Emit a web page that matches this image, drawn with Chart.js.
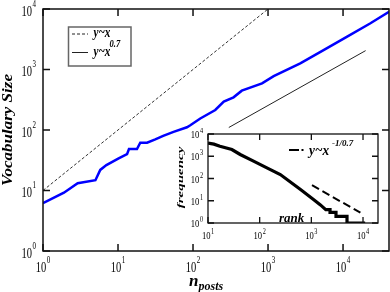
<!DOCTYPE html>
<html>
<head>
<meta charset="utf-8">
<script src="https://cdn.jsdelivr.net/npm/chart.js@4"></script>
<style>
  html, body { margin: 0; padding: 0; background: #fff; }
  #wrap { position: relative; width: 390px; height: 292px; }
  #main { position: absolute; left: 0; top: 0; }
  #inset { position: absolute; left: 170px; top: 128px; }
</style>
</head>
<body>
<div id="wrap">
  <canvas id="main" width="390" height="292"></canvas>
  <canvas id="inset" width="215" height="112"></canvas>
</div>
<script>
// main plot: vocabulary size against number of posts
const postCounts = [1, 1.9, 2.9, 5, 5.8, 7, 10.2, 13.2, 14, 17.9, 19.8, 24.4, 31.4, 40, 55, 83, 92, 125, 198, 257, 347, 447, 832, 1190, 2690, 5500, 11200, 22900, 41000];
const vocabSizes = [6.2, 9.2, 13.2, 14.8, 21.9, 26.3, 33.9, 39.8, 48.5, 48.5, 61.7, 61.7, 70, 80, 93.3, 111, 120, 155, 214, 295, 347, 447, 589, 776, 1260, 2090, 3470, 5750, 9000];
// guide lines y~x and y~x^0.7 (end points)
const linearRefX = [1, 1000];
const linearRefY = [10, 10000];
const powRefX = [300, 20000];
const powRefY = [110, 2050];

// inset: word frequency against rank
const ranks = [10, 13, 17, 29, 42, 76, 138, 251, 617, 1100, 1500, 1900, 2300, 2300, 3000, 3000, 4900, 4900, 11000];
const freqs = [3900, 3500, 2800, 2000, 1200, 600, 300, 150, 32, 11.5, 6.5, 4, 4, 3, 3, 2, 2, 1, 1];
const zipfRefX = [1030, 8900];
const zipfRefY = [50, 2.9];

// tick values
const mainXTicks = [1, 10, 100, 1000, 10000];
const mainYTicks = [1, 10, 100, 1000, 10000];
const insetXTicks = [10, 100, 1000, 10000];
const insetYTicks = [1, 10, 100, 1000, 10000];

const SERIF = '"Liberation Serif", "DejaVu Serif", serif';
const pts = (xs, ys) => xs.map((x, i) => ({ x, y: ys[i] }));

function text(ctx, str, x, y, font, opt) {
  opt = opt || {};
  ctx.save();
  ctx.translate(x, y);
  if (opt.rot) ctx.rotate(opt.rot);
  ctx.scale(opt.sx || 1, opt.sy || 1);
  ctx.font = font;
  ctx.fillStyle = '#000';
  ctx.textAlign = opt.align || 'left';
  ctx.textBaseline = 'alphabetic';
  ctx.fillText(str, 0, 0);
  ctx.restore();
}

function textWidth(ctx, str, font, sx) {
  ctx.save();
  ctx.font = font;
  const w = ctx.measureText(str).width * (sx || 1);
  ctx.restore();
  return w;
}

// "10" with the exponent raised
function powLabel(ctx, v, x, y, st, align) {
  const exp = String(Math.round(Math.log10(v)));
  const w1 = textWidth(ctx, '10', st.big, st.sx);
  const w2 = textWidth(ctx, exp, st.small, st.sx);
  const left = align === 'right' ? x - w1 - st.gap - w2 : x - (w1 + st.gap + w2) / 2;
  text(ctx, '10', left, y, st.big, { sx: st.sx });
  text(ctx, exp, left + w1 + st.gap, y - st.rise, st.small, { sx: st.sx });
}

function frameAndTicks(ctx, chart, xs, ys, len, lw) {
  const { left, right, top, bottom } = chart.chartArea;
  ctx.save();
  ctx.strokeStyle = '#111';
  ctx.lineWidth = lw;
  ctx.strokeRect(left, top, right - left, bottom - top);
  ctx.beginPath();
  xs.forEach((v) => {
    const p = chart.scales.x.getPixelForValue(v);
    ctx.moveTo(p, bottom); ctx.lineTo(p, bottom - len);
    ctx.moveTo(p, top); ctx.lineTo(p, top + len);
  });
  ys.forEach((v) => {
    const p = chart.scales.y.getPixelForValue(v);
    ctx.moveTo(left, p); ctx.lineTo(left + len, p);
    ctx.moveTo(right, p); ctx.lineTo(right - len, p);
  });
  ctx.stroke();
  ctx.restore();
}

const mainDecor = {
  id: 'mainDecor',
  afterDraw(chart) {
    const ctx = chart.ctx;
    const { bottom } = chart.chartArea;
    frameAndTicks(ctx, chart, mainXTicks, mainYTicks, 7, 1.5);

    const st = { big: '15px ' + SERIF, small: '10px ' + SERIF, sx: 0.7, gap: 0.5, rise: 9 };
    mainYTicks.forEach((v) => powLabel(ctx, v, 36, chart.scales.y.getPixelForValue(v) + 6.5, st, 'right'));
    mainXTicks.forEach((v) => powLabel(ctx, v, chart.scales.x.getPixelForValue(v), bottom + 20.5, st, 'center'));

    // axis titles
    text(ctx, 'Vocabulary Size', 12, 130, 'bold italic 17px ' + SERIF, { rot: -Math.PI / 2, align: 'center', sy: 0.85 });
    text(ctx, 'n', 189, 285.5, 'bold italic 17px ' + SERIF);
    text(ctx, 'posts', 198.5, 289.5, 'bold italic 12px ' + SERIF);

    // legend box
    ctx.save();
    ctx.fillStyle = '#fff';
    ctx.fillRect(68.5, 27, 62.5, 39);
    ctx.strokeStyle = '#666';
    ctx.lineWidth = 1.5;
    ctx.strokeRect(68.5, 27, 62.5, 39);
    ctx.strokeStyle = '#222';
    ctx.lineWidth = 1;
    ctx.setLineDash([3, 2]);
    ctx.beginPath(); ctx.moveTo(72, 34); ctx.lineTo(88, 34); ctx.stroke();
    ctx.setLineDash([]);
    ctx.beginPath(); ctx.moveTo(72, 52.5); ctx.lineTo(88, 52.5); ctx.stroke();
    ctx.restore();
    text(ctx, 'y~x', 93.5, 36.5, 'bold italic 14px ' + SERIF, { sx: 0.8 });
    text(ctx, 'y~x', 93.5, 55.5, 'bold italic 14px ' + SERIF, { sx: 0.8 });
    text(ctx, '0.7', 109.5, 46.5, 'bold italic 10px ' + SERIF, { sx: 0.85 });
  },
};

const insetDecor = {
  id: 'insetDecor',
  beforeDatasetsDraw(chart) {
    const { left, right, top, bottom } = chart.chartArea;
    chart.ctx.save();
    chart.ctx.fillStyle = '#fff';
    chart.ctx.fillRect(left, top, right - left, bottom - top);
    chart.ctx.restore();
  },
  afterDraw(chart) {
    const ctx = chart.ctx;
    const { left, bottom } = chart.chartArea;
    frameAndTicks(ctx, chart, insetXTicks, insetYTicks, 6, 1.3);

    const st = { big: '11px ' + SERIF, small: '8px ' + SERIF, sx: 0.78, gap: 0.5, rise: 5 };
    insetYTicks.forEach((v) => powLabel(ctx, v, left - 5, chart.scales.y.getPixelForValue(v) + 4, st, 'right'));
    insetXTicks.forEach((v) => powLabel(ctx, v, chart.scales.x.getPixelForValue(v), bottom + 15.5, st, 'center'));

    text(ctx, 'frequency', 12.5, 49.5, 'bold italic 15px ' + SERIF, { rot: -Math.PI / 2, align: 'center', sy: 0.6 });
    text(ctx, 'rank', 109, 93.5, 'bold italic 13px ' + SERIF);

    // legend
    ctx.save();
    ctx.strokeStyle = '#000';
    ctx.lineWidth = 2;
    ctx.beginPath();
    ctx.moveTo(119, 22); ctx.lineTo(129, 22);
    ctx.moveTo(131.5, 22); ctx.lineTo(133.5, 22);
    ctx.stroke();
    ctx.restore();
    text(ctx, 'y~x', 139, 27, 'bold italic 14px ' + SERIF, { sx: 0.95 });
    text(ctx, '-1/0.7', 162, 18, 'bold italic 9px ' + SERIF);
  },
};

new Chart(document.getElementById('main'), {
  type: 'scatter',
  data: {
    datasets: [
      { data: pts(postCounts, vocabSizes), showLine: true, borderColor: '#0000ff', borderWidth: 2.5, pointRadius: 0, tension: 0 },
      { data: pts(linearRefX, linearRefY), showLine: true, borderColor: '#333', borderWidth: 1, borderDash: [3, 2], pointRadius: 0 },
      { data: pts(powRefX, powRefY), showLine: true, borderColor: '#222', borderWidth: 1, pointRadius: 0 },
    ],
  },
  options: {
    responsive: false,
    animation: false,
    devicePixelRatio: 1,
    layout: { padding: { left: 43, top: 9, right: 1, bottom: 41 } },
    plugins: { legend: { display: false }, tooltip: { enabled: false } },
    scales: {
      x: { type: 'logarithmic', min: 1, max: 41000, display: false },
      y: { type: 'logarithmic', min: 1, max: 10000, display: false },
    },
  },
  plugins: [mainDecor],
});

new Chart(document.getElementById('inset'), {
  type: 'scatter',
  data: {
    datasets: [
      { data: pts(ranks, freqs), showLine: true, borderColor: '#000', borderWidth: 3.2, pointRadius: 0, tension: 0 },
      { data: pts(zipfRefX, zipfRefY), showLine: true, borderColor: '#000', borderWidth: 2, borderDash: [8, 4], pointRadius: 0 },
    ],
  },
  options: {
    responsive: false,
    animation: false,
    devicePixelRatio: 1,
    layout: { padding: { left: 38, top: 6, right: 7, bottom: 17 } },
    plugins: { legend: { display: false }, tooltip: { enabled: false } },
    scales: {
      x: { type: 'logarithmic', min: 10, max: 19500, display: false },
      y: { type: 'logarithmic', min: 1, max: 10000, display: false },
    },
  },
  plugins: [insetDecor],
});
</script>
</body>
</html>
